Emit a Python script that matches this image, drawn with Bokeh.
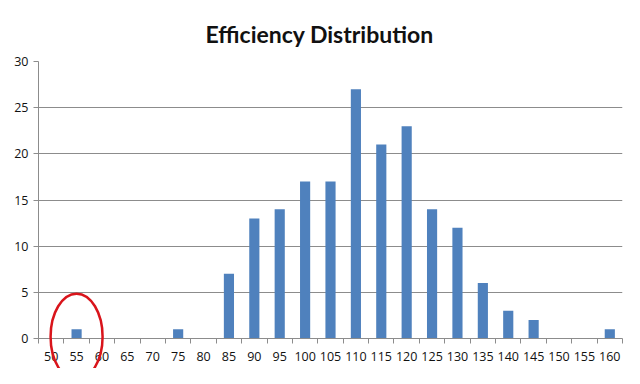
from bokeh.plotting import figure
from bokeh.models import FixedTicker, Range1d, ColumnDataSource
from bokeh.embed import file_html
from bokeh.resources import INLINE

categories = list(range(50, 165, 5))
counts = [0, 1, 0, 0, 0, 1, 0, 7, 13, 14, 17, 17, 27, 21, 23, 14, 12, 6, 3, 2, 0, 0, 1]
y_ticks = [0, 5, 10, 15, 20, 25, 30]
title_text = "Efficiency Distribution"
circled = [55]

p = figure(width=624, height=368, output_backend="svg", toolbar_location=None,
           x_range=Range1d(47.5, 162.5), y_range=Range1d(0, 30),
           min_border_left=38, min_border_right=2, min_border_top=61, min_border_bottom=30)
p.title.text = title_text
p.title.align = "left"
p.title.vertical_align = "top"
p.title.text_font = "Lato"
p.title.text_font_style = "bold"
p.title.text_font_size = "23px"
p.title.text_color = "#111111"
p.title.offset = 167
p.title.standoff = 24

src = ColumnDataSource(dict(x=categories, top=counts))
p.vbar(x="x", top="top", width=2.0, source=src, fill_color="#4F81BD", line_color=None)

r = p.ellipse(x=circled, y=[0.2], width=52, height=86, width_units="screen", height_units="screen",
              fill_color=None, line_color="#D9141B", line_width=2.5)
r.level = "overlay"

p.outline_line_color = None
p.background_fill_color = "white"
p.border_fill_color = "white"

p.xgrid.visible = False
p.ygrid.ticker = FixedTicker(ticks=y_ticks)
p.ygrid.grid_line_color = "#8c8c8c"
p.ygrid.grid_line_width = 1

p.xaxis.ticker = FixedTicker(ticks=categories, minor_ticks=[c - 2.5 for c in categories] + [categories[-1] + 2.5])
p.xaxis.major_tick_out = 0
p.xaxis.major_tick_in = 0
p.xaxis.minor_tick_out = 5
p.xaxis.minor_tick_in = 0
p.xaxis.minor_tick_line_color = "#8c8c8c"
p.xaxis.axis_line_color = "#8c8c8c"
p.xaxis.major_label_standoff = 8

p.yaxis.ticker = FixedTicker(ticks=y_ticks)
p.yaxis.major_tick_out = 5
p.yaxis.major_tick_in = 0
p.yaxis.minor_tick_line_color = None
p.yaxis.major_tick_line_color = "#8c8c8c"
p.yaxis.axis_line_color = "#8c8c8c"
p.yaxis.major_label_standoff = 5

for ax in (p.xaxis, p.yaxis):
    ax.major_label_text_font = "Open Sans"
    ax.major_label_text_font_size = "12.5px"
    ax.major_label_text_color = "#111111"

open("out.html", "w").write(file_html(p, INLINE))
